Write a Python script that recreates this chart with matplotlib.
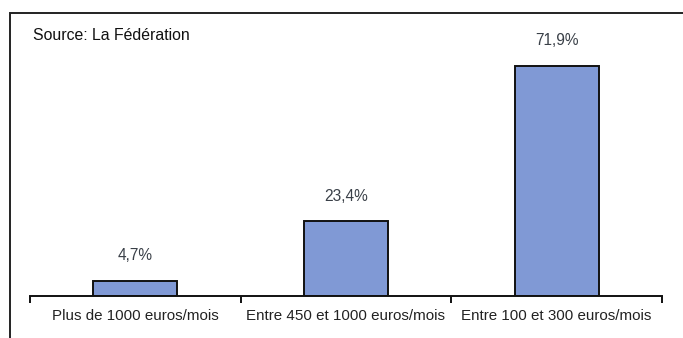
import matplotlib
matplotlib.use('agg')
import matplotlib.pyplot as plt
from matplotlib.patches import Rectangle

categories = ['Plus de 1000 euros/mois', 'Entre 450 et 1000 euros/mois', 'Entre 100 et 300 euros/mois']
values = [4.7, 23.4, 71.9]
labels = ['4,7%', '23,4%', '71,9%']
source = 'Source: La Fédération'

plt.rcParams['font.family'] = ['Liberation Sans', 'DejaVu Sans']

W, H = 683, 338
fig = plt.figure(figsize=(W / 100, H / 100), dpi=100)

# outer frame (left + top edges)
fig.patches.append(Rectangle((10 / W, -0.1), 1.2, (H - 13) / H + 0.1,
                             transform=fig.transFigure, fill=False,
                             edgecolor='#222222', linewidth=1.4))

ax = fig.add_axes([30 / W, (H - 296) / H, 632 / W, 282 / H])
x = range(len(values))
ax.bar(x, values, width=0.4, color='#8099d5', edgecolor='#111111', linewidth=1.4)
for i, (v, t) in enumerate(zip(values, labels)):
    ax.annotate(t, (i, v), xytext=(0, 18), textcoords='offset points',
                ha='center', va='center', fontsize=11.2, color='#3a4048')

ax.set_xlim(-0.5, 2.5)
ax.set_ylim(0, 88)
for s in ['top', 'right', 'left']:
    ax.spines[s].set_visible(False)
ax.spines['bottom'].set_linewidth(1.4)
ax.spines['bottom'].set_color('#111111')
ax.set_yticks([])
ax.set_xticks(list(x))
ax.set_xticklabels(categories, fontsize=10.9, color='#222222')
ax.tick_params(axis='x', which='major', length=0, pad=9)
ax.set_xticks([-0.5, 0.5, 1.5, 2.5], minor=True)
ax.tick_params(axis='x', which='minor', length=5, width=1.4, color='#111111')

fig.text(33 / W, 1 - 35 / H, source, fontsize=11.4, color='#111111', va='center', ha='left')

fig.savefig('out.png', dpi=100)
